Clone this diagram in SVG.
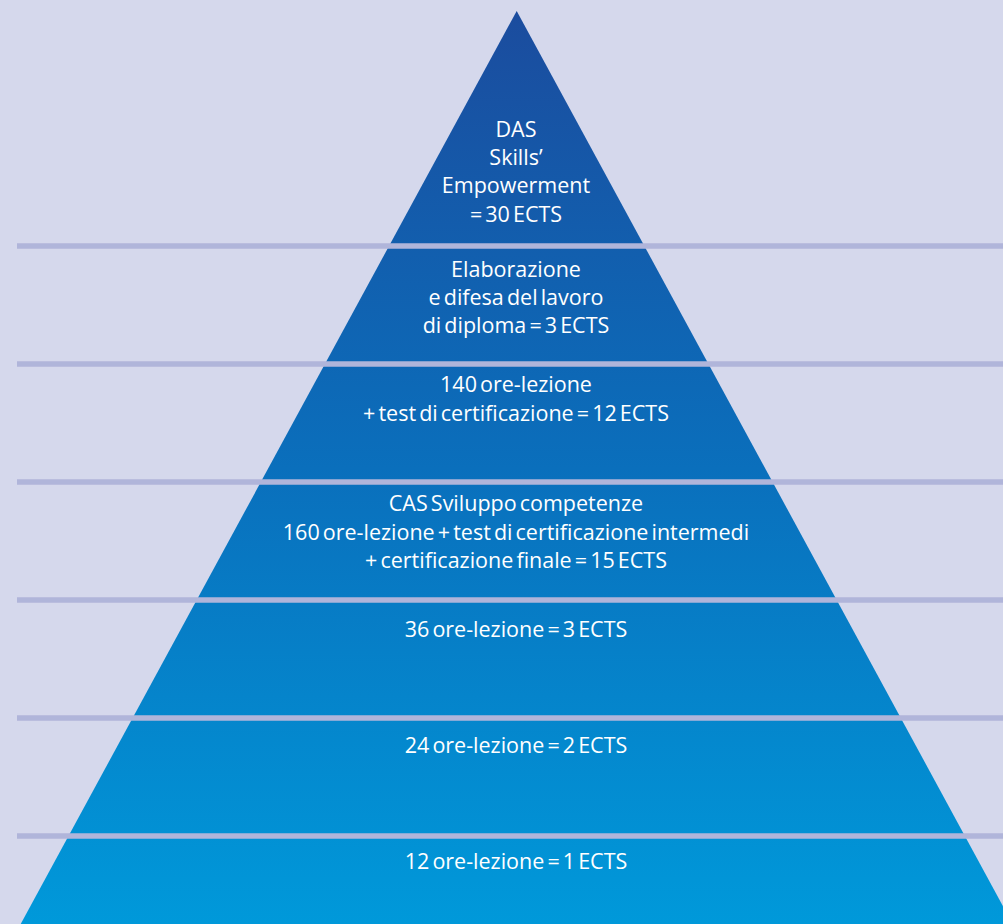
<svg xmlns="http://www.w3.org/2000/svg" width="1003" height="924" viewBox="0 0 1003 924">
<defs>
<linearGradient id="pg" x1="0" y1="11" x2="0" y2="924" gradientUnits="userSpaceOnUse">
<stop offset="0" stop-color="#1b4c9e"/>
<stop offset="0.5" stop-color="#0a6fbc"/>
<stop offset="1" stop-color="#0099da"/>
</linearGradient>
<style>
.t{font-family:"Open Sans","Liberation Sans",sans-serif;font-size:21.5px;fill:#ffffff;text-anchor:middle;word-spacing:-2.5px}
.sep{stroke:#b0b5da;stroke-width:5.5}
</style>
</defs>
<rect width="1003" height="924" fill="#d5d8ec"/>
<polygon id="pyramid" points="516.7,11 1012.7,924 20.7,924" fill="url(#pg)"/>
<g id="connectors">
<line class="sep" x1="17" y1="246" x2="1003" y2="246"/>
<line class="sep" x1="17" y1="364" x2="1003" y2="364"/>
<line class="sep" x1="17" y1="482" x2="1003" y2="482"/>
<line class="sep" x1="17" y1="600" x2="1003" y2="600"/>
<line class="sep" x1="17" y1="718" x2="1003" y2="718"/>
<line class="sep" x1="17" y1="836" x2="1003" y2="836"/>
</g>
<g id="tier-das">
<text class="t" x="516" y="137">DAS</text>
<text class="t" x="516" y="165">Skills’</text>
<text class="t" x="516" y="193">Empowerment</text>
<text class="t" x="516" y="222">= 30 ECTS</text>
</g>
<g id="tier-diploma">
<text class="t" x="516" y="277">Elaborazione</text>
<text class="t" x="516" y="305">e difesa del lavoro</text>
<text class="t" x="516" y="333">di diploma = 3 ECTS</text>
</g>
<g id="tier-140">
<text class="t" x="516" y="392">140 ore-lezione</text>
<text class="t" x="516" y="421">+ test di certificazione = 12 ECTS</text>
</g>
<g id="tier-cas">
<text class="t" x="516" y="511">CAS Sviluppo competenze</text>
<text class="t" x="516" y="540">160 ore-lezione + test di certificazione intermedi</text>
<text class="t" x="516" y="568">+ certificazione finale = 15 ECTS</text>
</g>
<g id="tier-36">
<text class="t" x="516" y="637">36 ore-lezione = 3 ECTS</text>
</g>
<g id="tier-24">
<text class="t" x="516" y="753">24 ore-lezione = 2 ECTS</text>
</g>
<g id="tier-12">
<text class="t" x="516" y="869">12 ore-lezione = 1 ECTS</text>
</g>
</svg>
